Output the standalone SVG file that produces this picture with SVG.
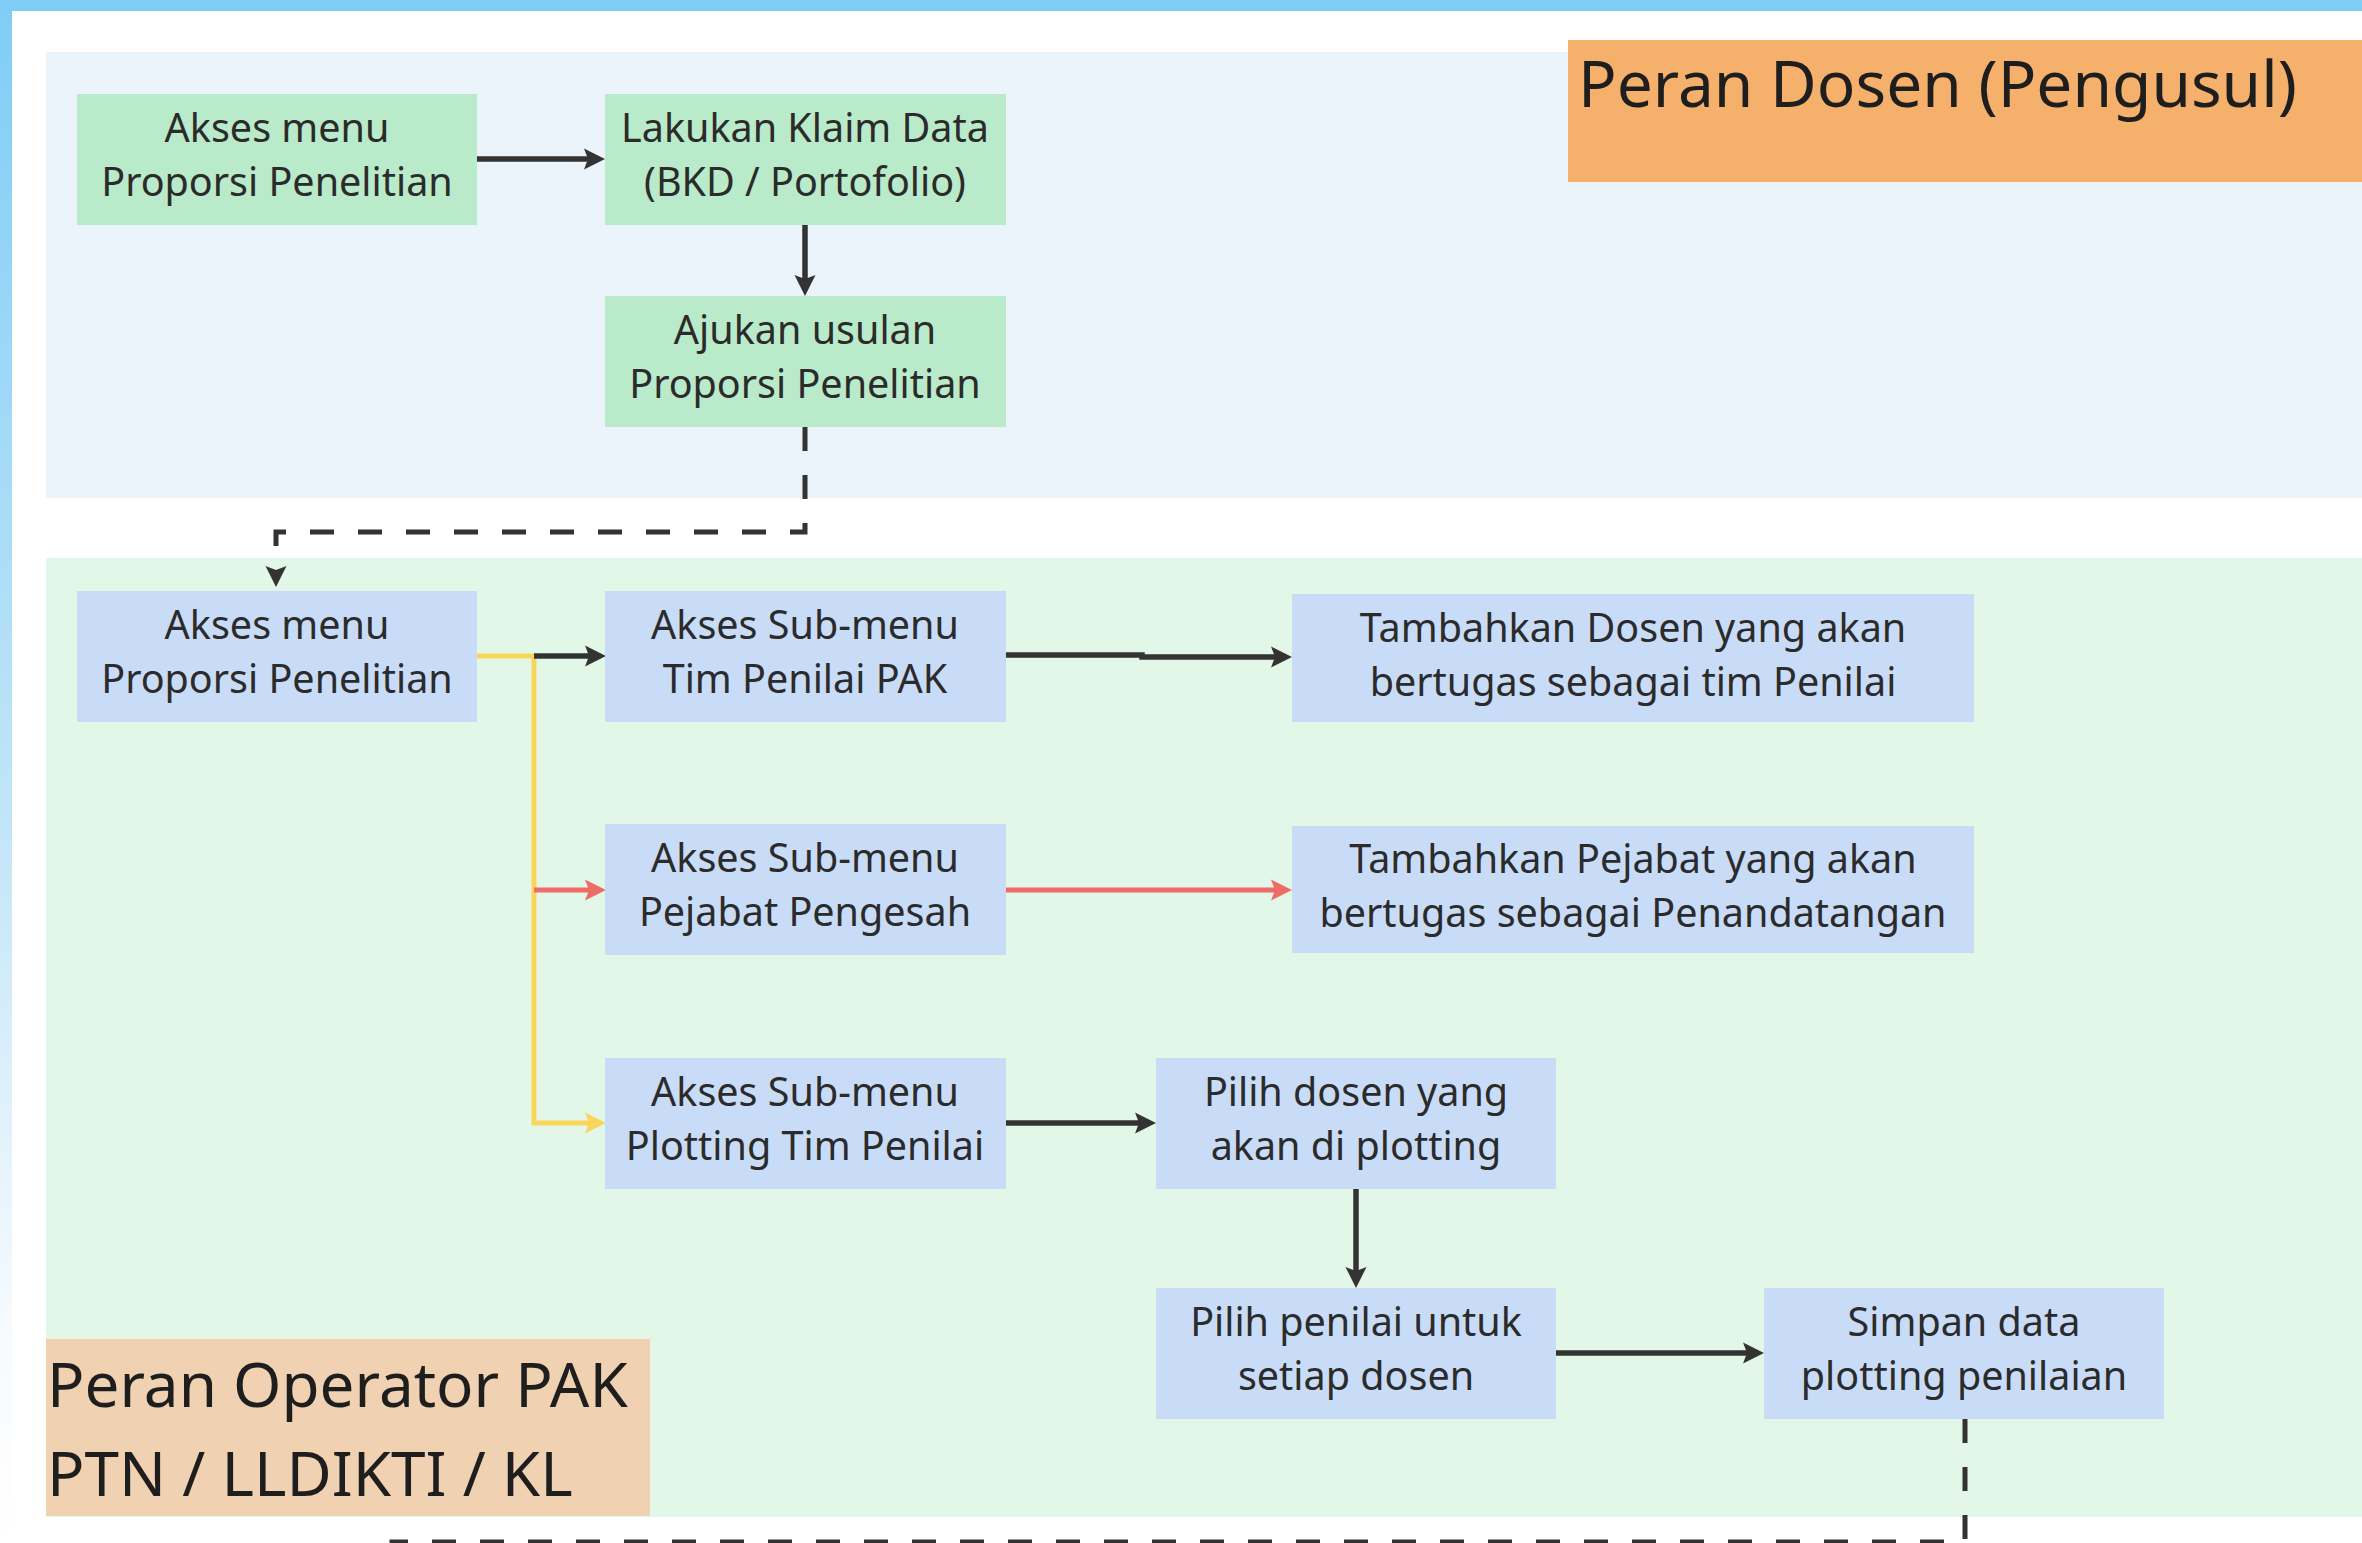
<svg xmlns="http://www.w3.org/2000/svg" width="2362" height="1543" viewBox="0 0 2362 1543">
  <defs>
    <linearGradient id="strip" x1="0" y1="0" x2="0" y2="1">
      <stop offset="0" stop-color="#7FCDF6"/>
      <stop offset="0.55" stop-color="#C4E6F8"/>
      <stop offset="0.85" stop-color="#F5FAFE"/>
      <stop offset="1" stop-color="#FFFFFF"/>
    </linearGradient>
    <marker id="arrDark" markerUnits="userSpaceOnUse" markerWidth="22" markerHeight="22" refX="6" refY="11" orient="auto">
      <path d="M0,0.5 L21,11 L0,21.5 L4,11 Z" fill="#333333"/>
    </marker>
    <marker id="arrYellow" markerUnits="userSpaceOnUse" markerWidth="22" markerHeight="22" refX="6" refY="11" orient="auto">
      <path d="M0,0.5 L21,11 L0,21.5 L4,11 Z" fill="#F9D65B"/>
    </marker>
    <marker id="arrRed" markerUnits="userSpaceOnUse" markerWidth="22" markerHeight="22" refX="6" refY="11" orient="auto">
      <path d="M0,0.5 L21,11 L0,21.5 L4,11 Z" fill="#EE6B68"/>
    </marker>
  </defs>
  <style>
    .green { fill: #B9EAC9; }
    .blue { fill: #C9DCF7; }
    .nt { font-family: "Noto Sans", "Open Sans", sans-serif; font-size: 39.5px; fill: #2B2B2B; text-anchor: middle; }
    .dark { fill: none; stroke: #333333; stroke-width: 5.5; marker-end: url(#arrDark); }
    .dash { fill: none; stroke: #333333; stroke-width: 5; stroke-dasharray: 24 24; }
    .yellow { fill: none; stroke: #F9D65B; stroke-width: 5; }
    .red { fill: none; stroke: #EE6B68; stroke-width: 5; marker-end: url(#arrRed); }
    .title { font-family: "Noto Sans", "Open Sans", sans-serif; fill: #1E1E1E; }
  </style>

  <!-- background -->
  <rect x="0" y="0" width="2362" height="1543" fill="#FFFFFF"/>
  <rect x="0" y="0" width="12" height="1543" fill="url(#strip)"/>
  <rect x="0" y="0" width="2362" height="11" fill="#7FCDF6"/>

  <!-- lanes -->
  <g id="lane-dosen">
    <rect x="46" y="52" width="2316" height="446" fill="#EBF3FB"/>
    <rect x="1568" y="40" width="794" height="142" fill="#F5B16B"/>
    <text class="title" x="1578" y="107" font-size="64" fill="#000000">Peran Dosen (Pengusul)</text>
  </g>
  <g id="lane-operator">
    <rect x="46" y="558" width="2316" height="959" fill="#E3F7E9"/>
    <rect x="46" y="1339" width="604" height="177" fill="#F0D1B1"/>
    <text class="title" x="47" y="1407" font-size="62">Peran Operator PAK</text>
    <text class="title" x="47" y="1496" font-size="62">PTN / LLDIKTI / KL</text>
  </g>

  <!-- connectors -->
  <g id="connectors">
    <path class="dark" d="M477,159 H590"/>
    <path class="dark" d="M805,225 V281"/>
    <path class="dash" d="M805,427 V532 H276 V572" marker-end="url(#arrDark)"/>
    <path class="yellow" d="M477,656 H534 V1123 H591" marker-end="url(#arrYellow)"/>
    <path class="dark" d="M534,656 H591"/>
    <path class="red" d="M534,890 H591"/>
    <path class="dark" d="M1006,655 H1142 V657 H1277"/>
    <path class="red" d="M1006,890 H1277"/>
    <path class="dark" d="M1006,1123 H1141"/>
    <path class="dark" d="M1356,1189 V1273"/>
    <path class="dark" d="M1556,1353 H1749"/>
    <path class="dash" d="M1965,1419 V1542 H392 V1600"/>
  </g>

  <!-- nodes -->
  <g id="n1"><rect class="green" x="77" y="94" width="400" height="131"/>
    <text class="nt" x="277" y="142">Akses menu</text><text class="nt" x="277" y="196">Proporsi Penelitian</text></g>
  <g id="n2"><rect class="green" x="605" y="94" width="401" height="131"/>
    <text class="nt" x="805" y="142">Lakukan Klaim Data</text><text class="nt" x="805" y="196">(BKD / Portofolio)</text></g>
  <g id="n3"><rect class="green" x="605" y="296" width="401" height="131"/>
    <text class="nt" x="805" y="344">Ajukan usulan</text><text class="nt" x="805" y="398">Proporsi Penelitian</text></g>
  <g id="n4"><rect class="blue" x="77" y="591" width="400" height="131"/>
    <text class="nt" x="277" y="639">Akses menu</text><text class="nt" x="277" y="693">Proporsi Penelitian</text></g>
  <g id="n5"><rect class="blue" x="605" y="591" width="401" height="131"/>
    <text class="nt" x="805" y="639">Akses Sub-menu</text><text class="nt" x="805" y="693">Tim Penilai PAK</text></g>
  <g id="n6"><rect class="blue" x="605" y="824" width="401" height="131"/>
    <text class="nt" x="805" y="872">Akses Sub-menu</text><text class="nt" x="805" y="926">Pejabat Pengesah</text></g>
  <g id="n7"><rect class="blue" x="605" y="1058" width="401" height="131"/>
    <text class="nt" x="805" y="1106">Akses Sub-menu</text><text class="nt" x="805" y="1160">Plotting Tim Penilai</text></g>
  <g id="n8"><rect class="blue" x="1292" y="594" width="682" height="128"/>
    <text class="nt" x="1633" y="642">Tambahkan Dosen yang akan</text><text class="nt" x="1633" y="696">bertugas sebagai tim Penilai</text></g>
  <g id="n9"><rect class="blue" x="1292" y="826" width="682" height="127"/>
    <text class="nt" x="1633" y="873">Tambahkan Pejabat yang akan</text><text class="nt" x="1633" y="927">bertugas sebagai Penandatangan</text></g>
  <g id="n10"><rect class="blue" x="1156" y="1058" width="400" height="131"/>
    <text class="nt" x="1356" y="1106">Pilih dosen yang</text><text class="nt" x="1356" y="1160">akan di plotting</text></g>
  <g id="n11"><rect class="blue" x="1156" y="1288" width="400" height="131"/>
    <text class="nt" x="1356" y="1336">Pilih penilai untuk</text><text class="nt" x="1356" y="1390">setiap dosen</text></g>
  <g id="n12"><rect class="blue" x="1764" y="1288" width="400" height="131"/>
    <text class="nt" x="1964" y="1336">Simpan data</text><text class="nt" x="1964" y="1390">plotting penilaian</text></g>
</svg>
